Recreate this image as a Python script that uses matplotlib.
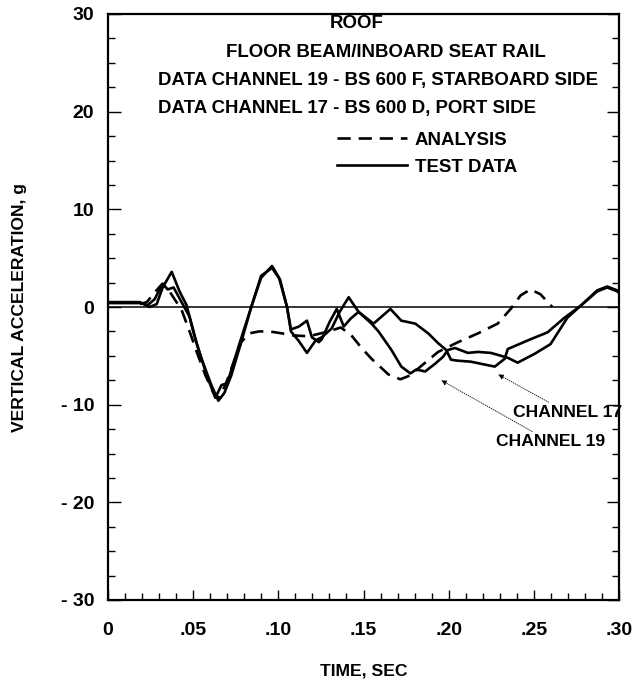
import matplotlib
matplotlib.use("Agg")
from matplotlib import pyplot as plt
from matplotlib.ticker import MultipleLocator, FixedLocator, FixedFormatter

plt.rcParams['font.family'] = ['Liberation Sans', 'DejaVu Sans']
plt.rcParams['font.weight'] = 'bold'

# test data, channel 19 (starboard side)
ch19_t = [0, 0.0187, 0.0245, 0.0286, 0.0321, 0.0374, 0.042, 0.0461, 0.0508, 0.0549,
          0.0607, 0.0648, 0.0683, 0.0724, 0.0782, 0.0841, 0.0899, 0.0963, 0.1004, 0.1051,
          0.1074, 0.1121, 0.1168, 0.122, 0.1255, 0.1313, 0.136, 0.1413, 0.1471, 0.1547,
          0.1588, 0.1664, 0.1722, 0.1775, 0.181, 0.1862, 0.1921, 0.1967, 0.1996, 0.2037,
          0.2113, 0.2172, 0.2248, 0.2347, 0.2405, 0.2504, 0.2598, 0.2697, 0.2773, 0.2872,
          0.2931, 0.299, 0.302]
ch19_g = [0.5, 0.5, 0.0, 0.3, 2.0, 3.6, 1.6, 0.2, -3.0, -5.3,
          -8.0, -9.6, -8.8, -7.0, -3.6, 0.0, 3.0, 4.2, 3.0, 0.0,
          -2.5, -3.5, -4.7, -3.4, -3.1, -2.2, -0.5, 1.0, -0.5, -1.7,
          -2.5, -4.4, -6.1, -6.8, -6.4, -6.6, -5.8, -5.1, -4.4, -4.2,
          -4.7, -4.6, -4.7, -5.2, -5.7, -4.8, -3.8, -1.1, 0.1, 1.6,
          2.0, 1.6, 1.1]

# test data, channel 17 (port side)
ch17_t = [0, 0.0187, 0.0234, 0.0274, 0.0321, 0.035, 0.0385, 0.0432, 0.0479, 0.0525,
          0.0584, 0.063, 0.0666, 0.07, 0.0771, 0.0841, 0.0899, 0.0963, 0.101, 0.1051,
          0.1074, 0.1121, 0.1168, 0.1197, 0.1238, 0.1255, 0.1302, 0.1343, 0.1384, 0.1424,
          0.1471, 0.1559, 0.1658, 0.1722, 0.1804, 0.188, 0.1938, 0.1985, 0.2014, 0.2055,
          0.2131, 0.2213, 0.2271, 0.2329, 0.2347, 0.2481, 0.258, 0.268, 0.2773, 0.2872,
          0.2931, 0.299, 0.302]
ch17_g = [0.4, 0.4, 0.2, 0.8, 2.4, 1.8, 2.0, 0.5, -1.0, -4.0,
          -7.2, -9.3, -8.0, -7.8, -3.8, 0.0, 3.2, 4.0, 2.8, 0.0,
          -2.3, -2.0, -1.4, -3.1, -3.6, -3.3, -1.5, -0.2, -2.0, -1.2,
          -0.5, -1.7, -0.2, -1.4, -1.7, -2.7, -3.7, -4.4, -5.4, -5.5,
          -5.6, -5.9, -6.1, -5.3, -4.3, -3.3, -2.6, -1.1, 0.1, 1.7,
          2.1, 1.7, 1.1]

# analysis
ana_t = [0.0187, 0.0228, 0.0274, 0.0315, 0.035, 0.0391, 0.0432, 0.0479, 0.0525, 0.0572,
         0.0619, 0.0648, 0.0689, 0.0741, 0.0782, 0.0829, 0.0887, 0.0946, 0.1022, 0.108,
         0.1179, 0.1249, 0.1313, 0.1366, 0.1424, 0.1489, 0.1547, 0.1646, 0.1716, 0.1775,
         0.1821, 0.1938, 0.2055, 0.2172, 0.2288, 0.2364, 0.2423, 0.2481, 0.2539, 0.2609]
ana_g = [0.3, 0.5, 1.5, 2.3, 1.9, 0.8, -0.3, -2.5, -4.8, -7.0,
         -8.8, -9.3, -8.0, -5.5, -3.6, -2.7, -2.5, -2.5, -2.7, -2.9,
         -3.0, -2.7, -2.4, -2.1, -2.8, -4.2, -5.3, -6.9, -7.4, -7.0,
         -6.3, -4.6, -3.6, -2.7, -1.7, -0.2, 1.2, 1.8, 1.3, 0.0]

x_ticks = [0, 0.05, 0.10, 0.15, 0.20, 0.25, 0.30]
x_labels = ['0', '.05', '.10', '.15', '.20', '.25', '.30']
y_ticks = [-30, -20, -10, 0, 10, 20, 30]
y_labels = ['- 30', '- 20', '- 10', '0', '10', '20', '30']

title_lines = ['ROOF', 'FLOOR BEAM/INBOARD SEAT RAIL']
channel_lines = ['DATA CHANNEL 19 - BS 600 F, STARBOARD SIDE',
                 'DATA CHANNEL 17 - BS 600 D, PORT SIDE']

fs = 13.4

fig = plt.figure(figsize=(6.32, 6.85), dpi=100)
ax = fig.add_axes([108 / 632, 85 / 685, 511 / 632, 586 / 685])

ax.axhline(0, color='black', lw=1.1, zorder=1)
ax.plot(ana_t, ana_g, color='black', lw=1.9, linestyle=(0, (5, 3)), label='ANALYSIS')
ax.plot(ch19_t, ch19_g, color='black', lw=1.9, solid_joinstyle='round', label='TEST DATA')
ax.plot(ch17_t, ch17_g, color='black', lw=1.9, solid_joinstyle='round')

ax.set_xlim(0, 0.30)
ax.set_ylim(-30, 30)

ax.xaxis.set_major_locator(FixedLocator(x_ticks))
ax.xaxis.set_major_formatter(FixedFormatter(x_labels))
ax.xaxis.set_minor_locator(MultipleLocator(0.01))
ax.yaxis.set_major_locator(FixedLocator(y_ticks))
ax.yaxis.set_major_formatter(FixedFormatter(y_labels))
ax.yaxis.set_minor_locator(MultipleLocator(2.5))

ax.tick_params(which='both', direction='in', labelsize=14, width=1.0,
               right=True, top=False)
ax.tick_params(axis='x', which='major', length=7, pad=16)
ax.tick_params(axis='x', which='minor', length=5)
ax.tick_params(axis='y', which='major', length=9, pad=10)
ax.tick_params(axis='y', which='minor', length=5)

for s in ax.spines.values():
    s.set_linewidth(1.6)

ax.set_xlabel('TIME, SEC', fontsize=12.6, fontweight='bold')
ax.set_ylabel('VERTICAL ACCELERATION, g', fontsize=12.6, fontweight='bold')
ax.xaxis.set_label_coords(0.5, -0.108)
ax.yaxis.set_label_coords(-0.158, 0.5)

# header text inside the plot
ax.text(0.486, 0.983, title_lines[0], transform=ax.transAxes, ha='center', va='center', fontsize=fs)
ax.text(0.543, 0.935, title_lines[1], transform=ax.transAxes, ha='center', va='center', fontsize=fs)
ax.text(0.098, 0.886, channel_lines[0], transform=ax.transAxes, ha='left', va='center', fontsize=fs)
ax.text(0.098, 0.839, channel_lines[1], transform=ax.transAxes, ha='left', va='center', fontsize=fs)

ax.legend(loc='upper left', bbox_to_anchor=(0.429, 0.815), frameon=False, fontsize=fs,
          handlelength=3.8, handletextpad=0.4, labelspacing=0.55, borderpad=0)

ax.annotate('CHANNEL 17', xy=(0.229, -6.9), xytext=(0.2376, -10.8), fontsize=12.6,
            va='center', ha='left',
            arrowprops=dict(arrowstyle='-|>', lw=0.6, linestyle=':', color='black',
                            mutation_scale=8, shrinkA=0, shrinkB=0))
ax.annotate('CHANNEL 19', xy=(0.1956, -7.5), xytext=(0.2277, -13.8), fontsize=12.6,
            va='center', ha='left',
            arrowprops=dict(arrowstyle='-|>', lw=0.6, linestyle=':', color='black',
                            mutation_scale=8, shrinkA=0, shrinkB=0))

plt.savefig('out.png', dpi=100)
plt.close()
